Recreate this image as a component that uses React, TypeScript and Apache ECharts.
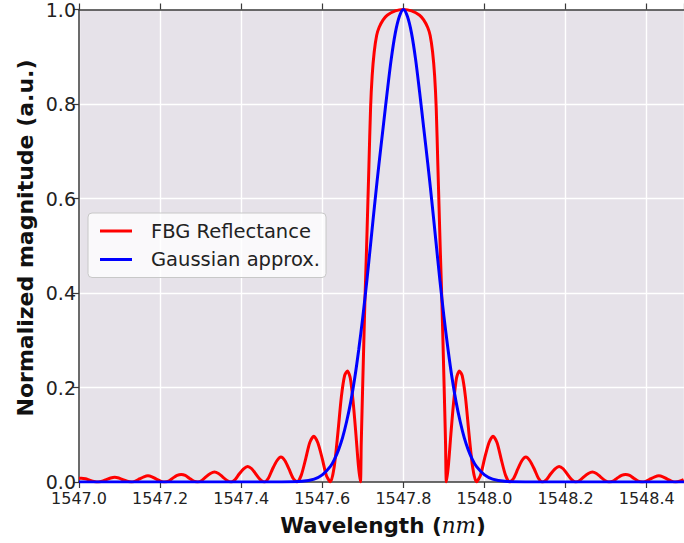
import React, { useEffect, useRef } from "react";
import * as echarts from "echarts";

// FBG reflectance (red) – wavelength (nm) and normalized magnitude
const fbgWavelength = [
  1547.000, 1547.006, 1547.016, 1547.026, 1547.037, 1547.047,
  1547.057, 1547.067, 1547.078, 1547.088, 1547.098, 1547.108, 1547.119, 1547.129,
  1547.139, 1547.149, 1547.160, 1547.170, 1547.180, 1547.190, 1547.201, 1547.211,
  1547.221, 1547.231, 1547.242, 1547.252, 1547.262, 1547.272, 1547.283, 1547.293,
  1547.303, 1547.313, 1547.324, 1547.334, 1547.344, 1547.354, 1547.365, 1547.375,
  1547.385, 1547.395, 1547.406, 1547.416, 1547.426, 1547.436, 1547.447, 1547.457,
  1547.467, 1547.477, 1547.488, 1547.498, 1547.508, 1547.518, 1547.528, 1547.538,
  1547.548, 1547.559, 1547.569, 1547.579, 1547.589, 1547.600, 1547.610, 1547.620,
  1547.629, 1547.638, 1547.647, 1547.655, 1547.662, 1547.669, 1547.676, 1547.683, 1547.689, 1547.694,
  1547.696, 1547.698, 1547.701, 1547.705, 1547.709, 1547.712, 1547.715, 1547.719, 1547.723,
  1547.728, 1547.734, 1547.740, 1547.750, 1547.760, 1547.780, 1547.800,
  1547.820, 1547.840, 1547.850, 1547.860, 1547.866, 1547.872, 1547.877, 1547.881,
  1547.885, 1547.888, 1547.891, 1547.895, 1547.899, 1547.902, 1547.904, 1547.906,
  1547.911, 1547.917, 1547.924, 1547.931, 1547.938, 1547.945, 1547.953, 1547.962, 1547.971, 1547.980,
  1547.990, 1548.000, 1548.011, 1548.021, 1548.031, 1548.041, 1548.052, 1548.062,
  1548.072, 1548.082, 1548.092, 1548.102, 1548.112, 1548.123, 1548.133, 1548.143,
  1548.153, 1548.163, 1548.174, 1548.184, 1548.194, 1548.204, 1548.215, 1548.225,
  1548.235, 1548.245, 1548.256, 1548.266, 1548.276, 1548.286, 1548.297, 1548.307,
  1548.317, 1548.327, 1548.338, 1548.348, 1548.358, 1548.368, 1548.379, 1548.389,
  1548.399, 1548.409, 1548.420, 1548.430, 1548.440, 1548.450, 1548.461, 1548.471,
  1548.481, 1548.491,
];
const fbgReflectance = [
  0.0078, 0.008, 0.0068, 0.004, 0.0012, 0,
  0.0015, 0.005, 0.0085, 0.010, 0.0085, 0.005, 0.0015, 0,
  0.002, 0.0065, 0.011, 0.013, 0.011, 0.0065, 0.002, 0,
  0.002, 0.008, 0.014, 0.016, 0.014, 0.008, 0.002, 0,
  0.003, 0.011, 0.018, 0.021, 0.018, 0.011, 0.003, 0,
  0.005, 0.017, 0.028, 0.033, 0.028, 0.017, 0.005, 0,
  0.008, 0.027, 0.045, 0.053, 0.045, 0.027, 0.008, 0,
  0.014, 0.049, 0.083, 0.097, 0.083, 0.049, 0.014, 0,
  0.03, 0.10, 0.18, 0.225, 0.235, 0.22, 0.17, 0.10, 0.035, 0,
  0.08, 0.15, 0.25, 0.38, 0.49, 0.58, 0.67, 0.79, 0.86,
  0.91, 0.945, 0.962, 0.978, 0.988, 0.997, 1.0,
  0.997, 0.988, 0.978, 0.962, 0.945, 0.91, 0.86, 0.79,
  0.67, 0.58, 0.49, 0.38, 0.25, 0.15, 0.08, 0,
  0.035, 0.10, 0.17, 0.22, 0.235, 0.225, 0.18, 0.10, 0.03, 0,
  0.014, 0.049, 0.083, 0.097, 0.083, 0.049, 0.014, 0,
  0.008, 0.027, 0.045, 0.053, 0.045, 0.027, 0.008, 0,
  0.005, 0.017, 0.028, 0.033, 0.028, 0.017, 0.005, 0,
  0.003, 0.011, 0.018, 0.021, 0.018, 0.011, 0.003, 0,
  0.002, 0.008, 0.014, 0.016, 0.014, 0.008, 0.002, 0,
  0.002, 0.0065, 0.011, 0.013, 0.011, 0.0065, 0.002, 0,
  0.0015, 0.005,
];

// Gaussian approximation (blue)
const gaussWavelength = [
  1547.000, 1547.400, 1547.500, 1547.550, 1547.580, 1547.600, 1547.620, 1547.630,
  1547.640, 1547.650, 1547.660, 1547.670, 1547.680, 1547.690, 1547.700, 1547.710,
  1547.720, 1547.730, 1547.740, 1547.750, 1547.760, 1547.770, 1547.780, 1547.790,
  1547.800, 1547.810, 1547.820, 1547.830, 1547.840, 1547.850, 1547.860, 1547.870,
  1547.880, 1547.890, 1547.900, 1547.910, 1547.920, 1547.930, 1547.940, 1547.950,
  1547.960, 1547.970, 1547.980, 1548.000, 1548.020, 1548.050, 1548.100, 1548.200,
  1548.492,
];
const gaussMagnitude = [
  0, 0, 0.0001, 0.0014, 0.0062, 0.015, 0.033, 0.048,
  0.068, 0.094, 0.128, 0.169, 0.220, 0.281, 0.350, 0.427,
  0.511, 0.595, 0.675, 0.75, 0.825, 0.895, 0.95, 0.985,
  1.0, 0.985, 0.95, 0.895, 0.825, 0.75, 0.675, 0.595,
  0.511, 0.427, 0.350, 0.281, 0.220, 0.169, 0.128, 0.094,
  0.068, 0.048, 0.033, 0.015, 0.0062, 0.0014, 0.0001, 0,
  0,
];

const xTickLabels = ["1547.0", "1547.2", "1547.4", "1547.6", "1547.8", "1548.0", "1548.2", "1548.4"];
const yTickLabels = ["0.0", "0.2", "0.4", "0.6", "0.8", "1.0"];
const seriesNames = ["FBG Reflectance", "Gaussian approx."];

const FONT = "DejaVu Sans";
const AXIS_COLOR = "#3a3a3a";

export default function App() {
  const ref = useRef<HTMLDivElement>(null);

  useEffect(() => {
    if (!ref.current) return;
    const chart = echarts.init(ref.current, undefined, { renderer: "svg" });

    const fbgData = fbgWavelength.map((w, i) => [w, fbgReflectance[i]]);
    const gaussData = gaussWavelength.map((w, i) => [w, gaussMagnitude[i]]);

    const xFmt = (v: number) => {
      const s = v.toFixed(1);
      return xTickLabels.indexOf(s) >= 0 && Math.abs(v - parseFloat(s)) < 1e-6 ? s : "";
    };
    const yFmt = (v: number) => {
      const s = v.toFixed(1);
      return yTickLabels.indexOf(s) >= 0 ? s : "";
    };

    chart.setOption({
      animation: false,
      grid: {
        left: 79,
        top: 9,
        right: 0,
        bottom: 61,
        show: true,
        backgroundColor: "#e6e2e9",
        borderWidth: 0,
      },
      legend: {
        data: seriesNames,
        left: 88,
        top: 213,
        orient: "vertical",
        backgroundColor: "rgba(255,255,255,0.8)",
        borderColor: "#c8c8c8",
        borderWidth: 1,
        borderRadius: 4,
        padding: [8, 6, 8, 12],
        itemWidth: 32,
        itemHeight: 3,
        itemGap: 8.5,
        icon: "rect",
        textStyle: {
          fontFamily: FONT,
          fontSize: 19.5,
          color: "#222",
          padding: [0, 0, 0, 14],
        },
      },
      xAxis: [
        {
          type: "value",
          position: "bottom",
          min: 1547.0,
          max: 1548.492,
          interval: 0.2,
          axisLine: { show: true, onZero: false, lineStyle: { color: AXIS_COLOR, width: 1.5 } },
          axisTick: { show: true, inside: false, length: 6, lineStyle: { color: AXIS_COLOR, width: 1.2 } },
          axisLabel: {
            show: true,
            margin: 10,
            fontFamily: FONT,
            fontSize: 16,
            lineHeight: 13,
            color: "#222",
            showMaxLabel: false,
            formatter: xFmt,
          },
          splitLine: { show: true, lineStyle: { color: "#ffffff", width: 1.4 } },
        },
        {
          type: "value",
          position: "top",
          min: 1547.0,
          max: 1548.492,
          interval: 0.2,
          axisLine: { show: true, onZero: false, lineStyle: { color: AXIS_COLOR, width: 1.5 } },
          axisTick: { show: true, inside: false, length: 6, lineStyle: { color: AXIS_COLOR, width: 1.2 } },
          axisLabel: { show: false },
          splitLine: { show: false },
        },
      ],
      yAxis: {
        type: "value",
        min: 0,
        max: 1,
        interval: 0.2,
        axisLine: { show: true, onZero: false, lineStyle: { color: AXIS_COLOR, width: 1.5 } },
        axisTick: { show: true, inside: false, length: 6, lineStyle: { color: AXIS_COLOR, width: 1.2 } },
        axisLabel: {
          show: true,
          margin: 3,
          fontFamily: FONT,
          fontSize: 19,
          lineHeight: 14,
          color: "#222",
          formatter: yFmt,
        },
        splitLine: { show: true, lineStyle: { color: "#ffffff", width: 1.4 } },
      },
      graphic: [
        {
          type: "text",
          x: 383,
          y: 525,
          style: {
            text: "{b|Wavelength (}{i|nm}{b|)}",
            textAlign: "center",
            textVerticalAlign: "middle",
            rich: {
              b: { fontFamily: FONT, fontWeight: "bold", fontSize: 21.5, fill: "#111", color: "#111" },
              i: { fontFamily: "DejaVu Serif", fontStyle: "italic", fontSize: 21.5, fill: "#111", color: "#111" },
            },
          },
        },
        {
          type: "text",
          x: 25,
          y: 238,
          rotation: Math.PI / 2,
          style: {
            text: "Normalized magnitude (a.u.)",
            textAlign: "center",
            textVerticalAlign: "middle",
            fontFamily: FONT,
            fontWeight: "bold",
            fontSize: 22,
            fill: "#111",
          },
        },
      ],
      series: [
        {
          name: seriesNames[0],
          type: "line",
          data: fbgData,
          showSymbol: false,
          smooth: 0.25,
          clip: true,
          lineStyle: { color: "#ff0000", width: 3 },
          itemStyle: { color: "#ff0000" },
        },
        {
          name: seriesNames[1],
          type: "line",
          data: gaussData,
          showSymbol: false,
          smooth: 0.3,
          clip: true,
          lineStyle: { color: "#0000ff", width: 3 },
          itemStyle: { color: "#0000ff" },
        },
      ],
    });

    return () => chart.dispose();
  }, []);

  return <div ref={ref} style={{ width: 684, height: 543, position: "absolute", left: 0, top: 0 }} />;
}
